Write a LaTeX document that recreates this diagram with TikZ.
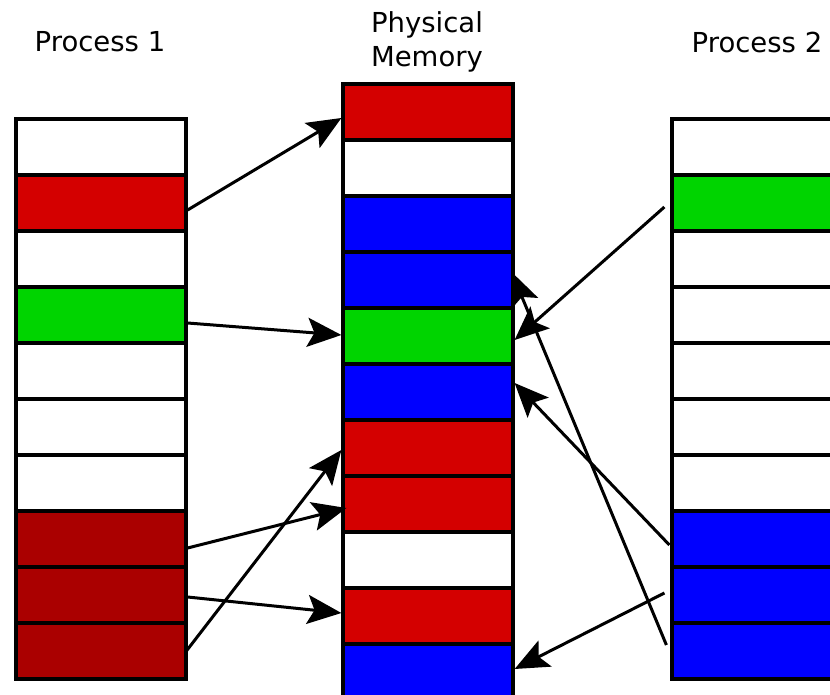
\documentclass[tikz,border=0pt]{standalone}
\usepackage{fontspec}
\setmainfont{DejaVu Sans}
\usetikzlibrary{arrows.meta}
\definecolor{cred}{HTML}{D40000}
\definecolor{cgreen}{HTML}{00D400}
\definecolor{cblue}{HTML}{0000FF}
\definecolor{cdark}{HTML}{AA0000}
\begin{document}
\begin{tikzpicture}[x=1pt,y=-1pt,
  cell/.style={draw=black,line width=3.2pt,minimum width=170pt,minimum height=56pt,inner sep=0pt,rectangle},
  lbl/.style={font=\fontsize{27.5}{34}\selectfont,align=center,inner sep=0pt},
  arr/.style={line width=3pt,-{Stealth[length=34pt,width=29pt,inset=7pt]}}]
\useasboundingbox (0,0) rectangle (830,695);
\begin{scope}
\clip (0,0) rectangle (830,695);
% Process 1
\foreach \c [count=\i from 0] in {white,cred,white,cgreen,white,white,white,cdark,cdark,cdark}
  \node[cell,fill=\c] (a\i) at (101,147+56*\i) {};
% Physical memory
\foreach \c [count=\i from 0] in {cred,white,cblue,cblue,cgreen,cblue,cred,cred,white,cred,cblue}
  \node[cell,fill=\c] (m\i) at (428,112+56*\i) {};
% Process 2
\foreach \c [count=\i from 0] in {white,cgreen,white,white,white,white,white,cblue,cblue,cblue}
  \node[cell,fill=\c] (b\i) at (757,147+56*\i) {};
\end{scope}
\node[lbl] (t1) at (100,42) {Process 1};
\node[lbl] (t2) at (427,42) {Physical\\Memory};
\node[lbl] (t3) at (757,42) {Process 2};
% arrows from Process 1
\draw[arr] ([yshift=-7pt]a1.east) -- ([yshift=-6pt]m0.west);
\draw[arr] ([yshift=-8pt]a3.east) -- ([yshift=1pt]m4.west);
\draw[arr] ([yshift=-9pt]a7.east) -- ([xshift=5pt,yshift=-4pt]m7.west);
\draw[arr] ([yshift=-2pt]a8.east) -- ([yshift=3pt]m9.west);
\draw[arr] ([xshift=-2pt,yshift=-1pt]a9.east) -- ([yshift=-2pt]m6.west);
% arrows from Process 2
\draw[arr] ([xshift=-6pt,yshift=-4pt]b1.west) -- ([yshift=-4pt]m4.east);
\draw[arr] ([xshift=-1pt,yshift=-6pt]b7.west) -- ([yshift=9pt]m5.east);
\draw[arr] ([xshift=-4pt,yshift=6pt]b9.west) -- ([xshift=-3pt,yshift=8pt]m3.east);
\draw[arr] ([xshift=-6pt,yshift=2pt]b8.west) -- ([yshift=3pt]m10.east);
\end{tikzpicture}
\end{document}
